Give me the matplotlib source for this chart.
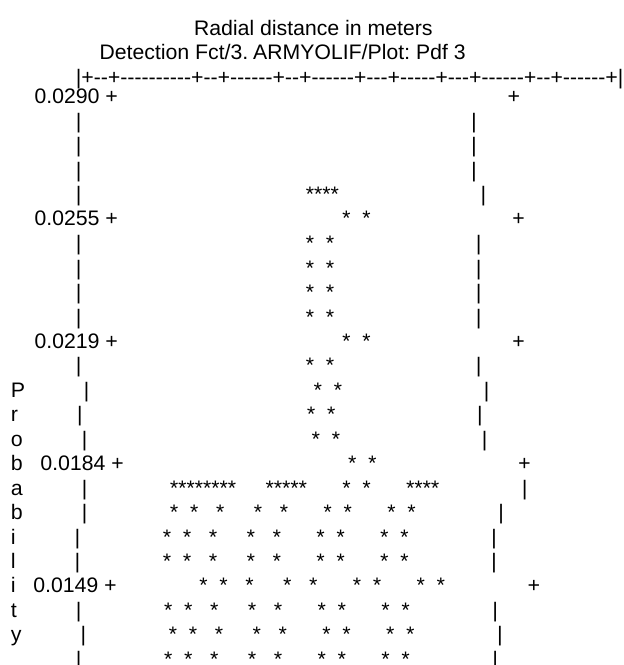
import matplotlib.pyplot as plt

# ---------------------------
# Line-printer plot data
# ---------------------------

title_lines = ["Radial distance in meters",
               "Detection Fct/3. ARMYOLIF/Plot: Pdf 3"]
title_indent = [33, 17]

# top border: tick columns between the two frame columns
left_col = 13
right_col = 80
x_tick_cols = [14, 17, 28, 31, 38, 41, 48, 52, 58, 62, 69, 72, 79]

# y ticks (every 5th printer row)
y_tick_labels = ["0.0290", "0.0255", "0.0219", "0.0184", "0.0149"]
y_tick_rows = [3, 8, 13, 18, 23]

y_label = "Probability"
y_label_row0 = 15
y_label_col = 2

first_row = 3
last_row = 26

# star columns for each printer row
star_rows = [7, 8, 9, 10, 11, 12, 13, 14, 15, 16, 17, 18,
             19, 20, 21, 22, 23, 24, 25, 26]
star_cols = [
    [52, 53, 54, 55],
    [52, 55],
    [52, 55],
    [52, 55],
    [52, 55],
    [52, 55],
    [52, 55],
    [52, 55],
    [52, 55],
    [52, 55],
    [52, 55],
    [52, 55],
    [28, 29, 30, 31, 32, 33, 34, 35, 41, 42, 43, 44, 45, 52, 55, 62, 63, 64, 65],
    [28, 31, 35, 41, 45, 52, 55, 62, 65],
    [28, 31, 35, 41, 45, 52, 55, 62, 65],
    [28, 31, 35, 41, 45, 52, 55, 62, 65],
    [28, 31, 35, 41, 45, 52, 55, 62, 65],
    [28, 31, 35, 41, 45, 52, 55, 62, 65],
    [28, 31, 35, 41, 45, 52, 55, 62, 65],
    [28, 31, 35, 41, 45, 52, 55, 62, 65],
]

# ---------------------------
# Build the printer lines
# ---------------------------

def axis_line():
    chars = [" "] * (right_col + 1)
    chars[left_col] = "|"
    chars[right_col] = "|"
    for c in range(left_col + 1, right_col):
        chars[c] = "-"
    for c in x_tick_cols:
        chars[c] = "+"
    return "".join(chars)

def plot_line(row):
    chars = [" "] * (right_col + 1)
    if row in y_tick_rows:
        label = y_tick_labels[y_tick_rows.index(row)]
        start = left_col - 1 - len(label)
        for i, ch in enumerate(label):
            chars[start + i] = ch
        chars[left_col] = "+"
        chars[right_col] = "+"
    else:
        chars[left_col] = "|"
        chars[right_col] = "|"
    k = row - y_label_row0
    if 0 <= k < len(y_label):
        chars[y_label_col] = y_label[k]
    if row in star_rows:
        for c in star_cols[star_rows.index(row)]:
            chars[c] = "*"
    return "".join(chars).rstrip()

lines = {}
for i, t in enumerate(title_lines):
    lines[i] = " " * title_indent[i] + t
lines[2] = axis_line()
for r in range(first_row, last_row + 1):
    lines[r] = plot_line(r)

# ---------------------------
# Draw
# ---------------------------

plt.rcParams["text.hinting"] = "no_hinting"
plt.rcParams["text.hinting_factor"] = 8

W, H, DPI = 624, 665, 100
font_px = 21.35
row_px = 24.45
row3_px = 103.0
header_shift = 0.2
x0 = -1
# right frame of a plain row ends about here in the reference
frame_right_px = 478.0

fig = plt.figure(figsize=(W / DPI, H / DPI), dpi=DPI)
ax = fig.add_axes([0, 0, 1, 1])
ax.set_xlim(0, W)
ax.set_ylim(3 + (H - row3_px) / row_px, 3 - row3_px / row_px)
ax.axis("off")

size = font_px * 72 / DPI
texts = {}
for r, s in lines.items():
    y = r + header_shift if r < first_row else r
    texts[r] = ax.text(x0, y, s, family="Liberation Sans", fontsize=size,
                       ha="left", va="baseline", color="black")

# scale the font so the monospace grid lands where the reference put it
renderer = fig.canvas.get_renderer()
for _ in range(3):
    bb = texts[4].get_window_extent(renderer)
    origin = ax.transData.transform((x0, 4))[0]
    size *= (frame_right_px - x0) / (bb.x1 - origin)
    for t in texts.values():
        t.set_fontsize(size)

fig.savefig("out.png", dpi=DPI, facecolor="white")
